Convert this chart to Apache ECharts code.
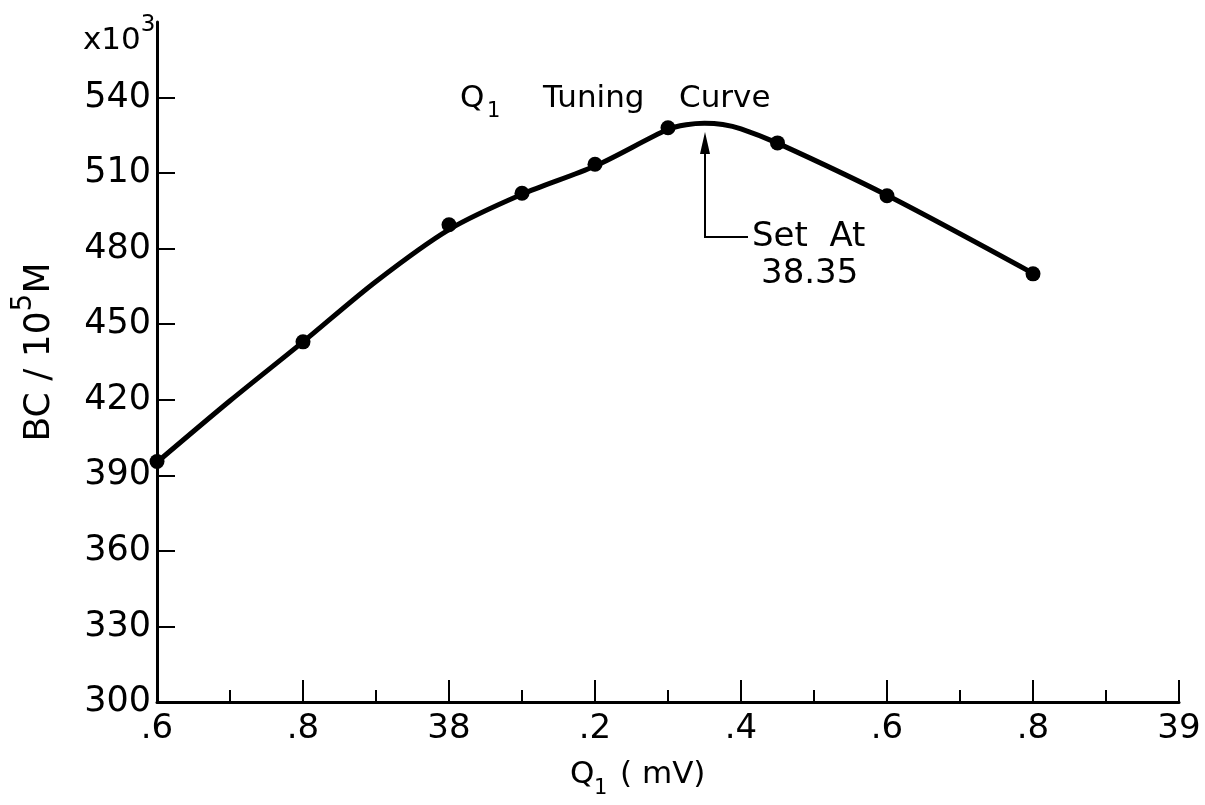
<!DOCTYPE html>
<html>
<head>
<meta charset="utf-8">
<script src="https://cdn.jsdelivr.net/npm/echarts@6/dist/echarts.min.js"></script>
<style>
html,body{margin:0;padding:0;background:#fff;}
#chart{width:1205px;height:805px;}
</style>
</head>
<body>
<div id="chart"></div>
<script>
// measured points (Q1 in mV, BC/10^5 M in thousands)
const qPoints  = [37.6, 37.8, 38.0, 38.1, 38.2, 38.3, 38.45, 38.6, 38.8];
const bcPoints = [395.5, 443, 489.5, 502, 513.5, 528, 522, 501, 470];
// hand-drawn tuning curve
const curveQ  = [37.6, 37.7, 37.8, 37.9, 38.0, 38.1, 38.2, 38.3, 38.325, 38.35, 38.375, 38.4, 38.45, 38.6, 38.8];
const curveBC = [395.2, 419.6, 443, 467, 487.6, 501.6, 512.8, 527.4, 529.2, 529.8, 529.3, 527.6, 521.9, 501.2, 470.2];
// tick labels
const xTickValues = [37.6, 37.8, 38.0, 38.2, 38.4, 38.6, 38.8, 39.0];
const xTickLabels = ['.6', '.8', '38', '.2', '.4', '.6', '.8', '39'];
const yTickValues = [300, 330, 360, 390, 420, 450, 480, 510, 540];
const yTickLabels = ['300', '330', '360', '390', '420', '450', '480', '510', '540'];
const setAt = 38.35;

const FONT = 'DejaVu Sans';
const chart = echarts.init(document.getElementById('chart'), null, {renderer: 'canvas'});

function pairs(xs, ys) { return xs.map((x, i) => [x, ys[i]]); }

chart.setOption({
  animation: false,
  backgroundColor: '#fff',
  grid: {left: 157, right: 26, top: 22, bottom: 103, outerBoundsMode: 'none', containLabel: false},
  xAxis: {
    type: 'value', min: 37.6, max: 39.0, interval: 0.2,
    axisLine: {show: true, onZero: false, lineStyle: {color: '#000', width: 3}},
    axisTick: {show: true, inside: true, length: 22, lineStyle: {color: '#000', width: 2}},
    minorTick: {show: true, splitNumber: 2, length: 12, lineStyle: {color: '#000', width: 2}},
    splitLine: {show: false},
    minorSplitLine: {show: false},
    axisLabel: {
      color: '#000', fontFamily: FONT, fontSize: 34, margin: 10,
      showMinLabel: true, showMaxLabel: true,
      formatter: function (v) {
        const i = xTickValues.findIndex(t => Math.abs(t - v) < 1e-6);
        return i >= 0 ? xTickLabels[i] : '';
      }
    }
  },
  yAxis: {
    type: 'value', min: 300, max: 570, interval: 30,
    axisLine: {show: true, onZero: false, lineStyle: {color: '#000', width: 3}},
    axisTick: {show: true, inside: true, length: 18, lineStyle: {color: '#000', width: 2},
      customValues: yTickValues.slice(1)},
    splitLine: {show: false},
    axisLabel: {
      color: '#000', fontFamily: FONT, fontSize: 35, margin: 6,
      customValues: yTickValues,
      formatter: function (v) {
        const i = yTickValues.findIndex(t => Math.abs(t - v) < 1e-6);
        return i >= 0 ? yTickLabels[i] : '';
      }
    }
  },
  series: [
    {
      name: 'curve', type: 'line', data: pairs(curveQ, curveBC),
      smooth: 0.3, showSymbol: false, symbol: 'none',
      lineStyle: {color: '#000', width: 5}, z: 2
    },
    {
      name: 'points', type: 'scatter', data: pairs(qPoints, bcPoints),
      symbol: 'circle', symbolSize: 15,
      itemStyle: {color: '#000', opacity: 1}, z: 3
    }
  ]
});

// annotations
const peak = chart.convertToPixel({gridIndex: 0}, [setAt, 526.5]);
const ax = Math.round(peak[0]);
const tipY = 132, elbowY = 237, elbowX = 748;

chart.setOption({
  graphic: [
    // x10^3 multiplier
    {type: 'text', left: 83, top: 14, style: {
      text: '{m|x10}{s|3}', fill: '#000',
      rich: {m: {fontFamily: FONT, fontSize: 31, lineHeight: 54, fill: '#000'},
             s: {fontFamily: FONT, fontSize: 23, lineHeight: 23, verticalAlign: 'top', fill: '#000'}}
    }},
    // y axis title (rotated)
    {type: 'text', x: 40, y: 352, rotation: Math.PI / 2, style: {
      text: '{m|BC / 10}{s|5}{m|M}', align: 'center', verticalAlign: 'middle', fill: '#000',
      rich: {m: {fontFamily: FONT, fontSize: 36, lineHeight: 60, fill: '#000'},
             s: {fontFamily: FONT, fontSize: 28, lineHeight: 28, verticalAlign: 'top', fill: '#000'}}
    }},
    // x axis title
    {type: 'text', left: 570, top: 759, style: {text: 'Q', fontFamily: FONT, fontSize: 31, fill: '#000'}},
    {type: 'text', left: 594, top: 778, style: {text: '1', fontFamily: FONT, fontSize: 21, fill: '#000'}},
    {type: 'text', left: 620, top: 759, style: {text: '( mV)', fontFamily: FONT, fontSize: 31, fill: '#000'}},
    // chart title
    {type: 'text', left: 460, top: 83, style: {text: 'Q', fontFamily: FONT, fontSize: 31, fill: '#000'}},
    {type: 'text', left: 487, top: 101, style: {text: '1', fontFamily: FONT, fontSize: 21, fill: '#000'}},
    {type: 'text', left: 543, top: 83, style: {text: 'Tuning', fontFamily: FONT, fontSize: 31, fill: '#000'}},
    {type: 'text', left: 679, top: 83, style: {text: 'Curve', fontFamily: FONT, fontSize: 31, fill: '#000'}},
    // arrow
    {type: 'polyline', shape: {points: [[ax, tipY + 12], [ax, elbowY], [elbowX, elbowY]]},
     style: {stroke: '#000', lineWidth: 2, fill: null}},
    {type: 'polygon', shape: {points: [[ax, tipY], [ax - 5, tipY + 22], [ax + 5, tipY + 22]]},
     style: {fill: '#000'}},
    {type: 'text', left: 752, top: 220, style: {text: 'Set  At', fontFamily: FONT, fontSize: 34, fill: '#000'}},
    {type: 'text', left: 761, top: 257, style: {text: String(setAt), fontFamily: FONT, fontSize: 34, fill: '#000'}}
  ]
});
</script>
</body>
</html>
